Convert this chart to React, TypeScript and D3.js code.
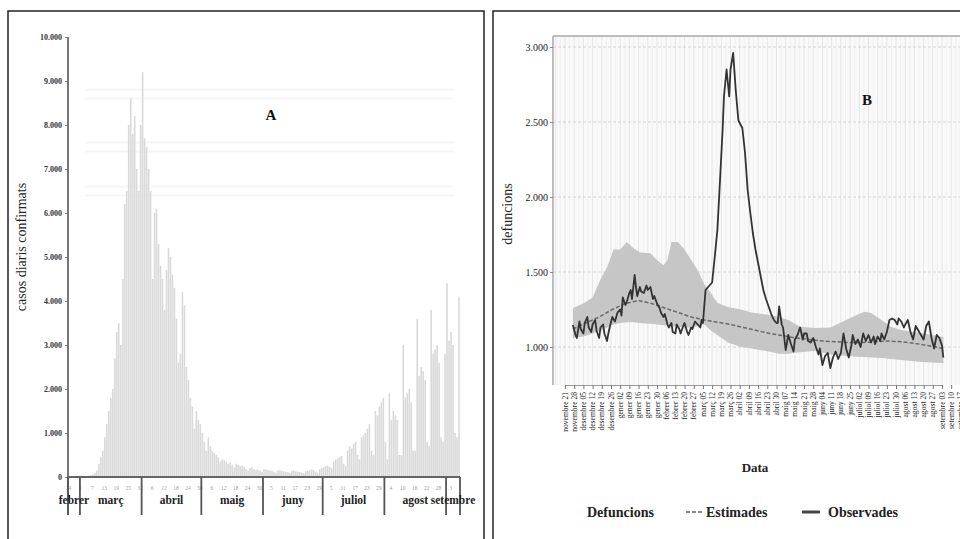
import React, { useRef, useEffect } from "react";
import * as d3 from "d3";

// ---- Panel A: daily confirmed cases (starting 24 Feb 2020) ----
const casesStart = "2020-02-24";
const casesEnd = "2020-09-08";
const casesFeb = [0, 0, 1, 2, 3, 5];
const casesMar = [6, 4, 10, 20, 30, 40, 60, 100, 150, 300, 450, 600, 900, 1200, 1500, 1800, 2000, 2700, 3300, 3500, 3000, 4500, 6200, 6500, 8000, 8600, 7800, 8200, 7000, 6500, 8000];
const casesApr = [9200, 7700, 7500, 7000, 6500, 4500, 6000, 6100, 5300, 4800, 4500, 3800, 4700, 5200, 5000, 4600, 4300, 3600, 2600, 2800, 4200, 3900, 2500, 2200, 1800, 1600, 1100, 1500, 1300, 1200];
const casesMay = [1000, 800, 600, 900, 700, 600, 550, 500, 450, 350, 400, 380, 350, 300, 330, 280, 220, 300, 280, 250, 260, 220, 180, 150, 200, 220, 180, 160, 170, 150, 120];
const casesJun = [180, 170, 160, 150, 140, 120, 100, 150, 160, 140, 130, 120, 110, 90, 140, 150, 130, 120, 110, 100, 90, 130, 140, 150, 170, 160, 120, 100, 180, 200];
const casesJul = [220, 250, 260, 230, 200, 350, 400, 420, 450, 480, 300, 250, 600, 700, 650, 750, 800, 500, 400, 900, 950, 1000, 1100, 1200, 600, 500, 1500, 1400, 1600, 1700, 1800];
const casesAug = [800, 400, 1900, 1300, 1500, 1400, 1300, 500, 500, 3000, 1800, 1900, 2000, 1700, 600, 600, 3600, 2300, 2500, 2400, 2200, 800, 700, 3800, 2800, 2900, 3000, 2600, 900, 800, 2800];
const casesSep = [4400, 3100, 3300, 3000, 1000, 900, 4100];
const casesTicks = [0, 1000, 2000, 3000, 4000, 5000, 6000, 7000, 8000, 9000, 10000];
const faintLines = [6400, 6600, 7400, 7600, 8600, 8800];
const catMonths = ["gener", "febrer", "març", "abril", "maig", "juny", "juliol", "agost", "setembre", "octubre", "novembre", "desembre"];

// ---- Panel B: deaths, observed vs estimated ----
const obsDates = [
  "2019-11-27", "2019-11-29", "2019-11-30", "2019-12-02", "2019-12-03", "2019-12-05", "2019-12-06", "2019-12-08", "2019-12-09", "2019-12-11",
  "2019-12-12", "2019-12-14", "2019-12-15", "2019-12-17", "2019-12-18", "2019-12-20", "2019-12-21", "2019-12-23", "2019-12-24", "2019-12-25",
  "2019-12-27", "2019-12-29", "2019-12-31", "2020-01-02", "2020-01-03", "2020-01-04", "2020-01-06", "2020-01-07", "2020-01-09", "2020-01-10",
  "2020-01-11", "2020-01-13", "2020-01-14", "2020-01-15", "2020-01-17", "2020-01-18", "2020-01-20", "2020-01-22", "2020-01-23", "2020-01-25",
  "2020-01-27", "2020-01-28", "2020-01-30", "2020-02-01", "2020-02-02", "2020-02-04", "2020-02-05", "2020-02-07", "2020-02-08", "2020-02-10",
  "2020-02-11", "2020-02-13", "2020-02-14", "2020-02-16", "2020-02-17", "2020-02-19", "2020-02-20", "2020-02-22", "2020-02-23", "2020-02-25",
  "2020-02-26", "2020-02-28", "2020-03-01", "2020-03-03", "2020-03-04", "2020-03-05", "2020-03-07", "2020-03-09", "2020-03-12", "2020-03-14",
  "2020-03-16", "2020-03-18", "2020-03-20", "2020-03-21", "2020-03-23", "2020-03-25", "2020-03-26", "2020-03-28", "2020-03-30", "2020-04-01",
  "2020-04-04", "2020-04-06", "2020-04-08", "2020-04-10", "2020-04-12", "2020-04-14", "2020-04-16", "2020-04-18", "2020-04-20", "2020-04-22",
  "2020-04-24", "2020-04-26", "2020-04-28", "2020-04-30", "2020-05-01", "2020-05-02", "2020-05-04", "2020-05-05", "2020-05-07", "2020-05-09",
  "2020-05-11", "2020-05-13", "2020-05-14", "2020-05-16", "2020-05-18", "2020-05-20", "2020-05-21", "2020-05-23", "2020-05-24", "2020-05-26",
  "2020-05-28", "2020-05-30", "2020-06-01", "2020-06-02", "2020-06-04", "2020-06-06", "2020-06-08", "2020-06-10", "2020-06-12", "2020-06-14",
  "2020-06-16", "2020-06-18", "2020-06-20", "2020-06-22", "2020-06-24", "2020-06-26", "2020-06-27", "2020-06-29", "2020-07-01", "2020-07-03",
  "2020-07-05", "2020-07-07", "2020-07-09", "2020-07-11", "2020-07-13", "2020-07-14", "2020-07-16", "2020-07-18", "2020-07-19", "2020-07-21",
  "2020-07-23", "2020-07-25", "2020-07-27", "2020-07-29", "2020-07-31", "2020-08-01", "2020-08-03", "2020-08-05", "2020-08-06", "2020-08-08",
  "2020-08-10", "2020-08-12", "2020-08-14", "2020-08-16", "2020-08-18", "2020-08-20", "2020-08-22", "2020-08-24", "2020-08-26", "2020-08-28",
  "2020-08-30", "2020-09-01", "2020-09-03", "2020-09-04",
];
const obsValues = [
  1147, 1080, 1060, 1170, 1120, 1090, 1160, 1200, 1130, 1100,
  1150, 1180, 1110, 1060, 1130, 1150, 1090, 1040, 1090, 1130,
  1200, 1170, 1230, 1250, 1210, 1330, 1280, 1300, 1360, 1380,
  1320, 1480, 1400, 1340, 1400, 1370, 1360, 1410, 1380, 1400,
  1320, 1340, 1290, 1260, 1230, 1200, 1220, 1150, 1130, 1160,
  1100, 1090, 1150, 1120, 1090, 1140, 1160, 1100, 1080, 1130,
  1120, 1170, 1150, 1130, 1180, 1160, 1380, 1400, 1430, 1600,
  1780, 2110, 2450, 2670, 2850, 2670, 2850, 2960, 2710, 2510,
  2460, 2300, 2050, 1900, 1760, 1650, 1560, 1470, 1380, 1320,
  1270, 1220, 1180, 1160, 1160, 1270, 1150, 1130, 980, 1080,
  1020, 970, 1050, 1080, 1130, 1050, 1090, 1090, 1040, 1030,
  1060, 1000, 950, 990, 880, 940, 960, 860, 930, 970,
  920, 960, 1090, 990, 930, 1010, 1080, 1020, 1050, 1000,
  1090, 1040, 1080, 1030, 1070, 1020, 1070, 1040, 1090, 1050,
  1100, 1180, 1190, 1180, 1150, 1190, 1170, 1130, 1150, 1180,
  1100, 1050, 1140, 1110, 1080, 1050, 1140, 1170, 1060, 990,
  1080, 1060, 1010, 930,
];
const estDates = ["2019-11-27", "2019-12-07", "2019-12-17", "2019-12-27", "2020-01-06", "2020-01-16", "2020-01-26", "2020-02-05", "2020-02-15", "2020-02-25", "2020-03-06", "2020-03-16", "2020-03-26", "2020-04-05", "2020-04-15", "2020-04-25", "2020-05-05", "2020-05-15", "2020-05-25", "2020-06-04", "2020-06-14", "2020-06-24", "2020-07-04", "2020-07-14", "2020-07-24", "2020-08-03", "2020-08-13", "2020-08-23", "2020-09-04"];
const estValues = [1120, 1160, 1200, 1250, 1290, 1310, 1290, 1260, 1230, 1200, 1180, 1165, 1150, 1130, 1110, 1090, 1075, 1060, 1050, 1040, 1035, 1030, 1030, 1035, 1040, 1035, 1025, 1010, 990];
const bandDates = ["2019-11-27", "2019-12-05", "2019-12-12", "2019-12-18", "2019-12-23", "2019-12-28", "2020-01-02", "2020-01-07", "2020-01-12", "2020-01-17", "2020-01-25", "2020-01-30", "2020-02-04", "2020-02-07", "2020-02-10", "2020-02-15", "2020-02-20", "2020-02-25", "2020-03-01", "2020-03-06", "2020-03-11", "2020-03-16", "2020-03-24", "2020-04-03", "2020-04-11", "2020-04-24", "2020-05-02", "2020-05-09", "2020-05-18", "2020-05-30", "2020-06-10", "2020-06-22", "2020-06-30", "2020-07-06", "2020-07-11", "2020-07-19", "2020-07-26", "2020-08-03", "2020-08-18", "2020-09-04"];
const bandUpper = [1260, 1290, 1330, 1450, 1530, 1650, 1650, 1700, 1660, 1630, 1625, 1580, 1545, 1580, 1700, 1700, 1650, 1580, 1513, 1420, 1360, 1295, 1267, 1250, 1230, 1215, 1200, 1180, 1135, 1127, 1130, 1180, 1213, 1235, 1227, 1180, 1135, 1113, 1093, 1067];
const bandLower = [1060, 1070, 1090, 1110, 1130, 1150, 1160, 1165, 1165, 1160, 1155, 1150, 1145, 1140, 1140, 1135, 1130, 1130, 1140, 1150, 1110, 1080, 1030, 1000, 990, 970, 955, 955, 965, 975, 950, 940, 935, 933, 930, 927, 920, 913, 900, 893];
const deathTicks = [1000, 1500, 2000, 2500, 3000];

const serif = "'Liberation Serif', 'DejaVu Serif', serif";

export default function App() {
  const ref = useRef<SVGSVGElement>(null);

  useEffect(() => {
    document.body.style.margin = "0";
    const svg = d3.select(ref.current);
    svg.selectAll("*").remove();
    const parse = d3.timeParse("%Y-%m-%d");
    const fmtNum = d3.formatLocale({ decimal: ",", thousands: ".", grouping: [3], currency: ["", "€"] }).format(",d");

    // outer frames
    svg.append("rect").attr("x", 8).attr("y", 11).attr("width", 476).attr("height", 540)
      .attr("fill", "none").attr("stroke", "#222").attr("stroke-width", 1.5);
    svg.append("rect").attr("x", 493).attr("y", 11).attr("width", 480).attr("height", 540)
      .attr("fill", "none").attr("stroke", "#222").attr("stroke-width", 1.5);

    // ================= A =================
    const aStart = parse(casesStart)!;
    const aEnd = parse(casesEnd)!;
    const cases = [...casesFeb, ...casesMar, ...casesApr, ...casesMay, ...casesJun, ...casesJul, ...casesAug, ...casesSep];
    const caseRows = cases.map((v, i) => ({ date: d3.timeDay.offset(aStart, i), v }));

    const xA = d3.scaleTime().domain([aStart, aEnd]).range([68, 460]);
    const yA = d3.scaleLinear().domain([0, 10000]).range([477, 37]);
    const gA = svg.append("g");

    gA.selectAll("line.faint").data(faintLines).join("line")
      .attr("x1", 85).attr("x2", 455).attr("y1", d => yA(d)).attr("y2", d => yA(d))
      .attr("stroke", "#f6f6f6").attr("stroke-width", 2);

    gA.selectAll("rect.bar").data(caseRows).join("rect")
      .attr("x", d => xA(d.date) + 0.2)
      .attr("width", 1.6)
      .attr("y", d => yA(d.v))
      .attr("height", d => yA(0) - yA(d.v))
      .attr("fill", "#d9d9d9");

    // y axis
    const yAxisA = gA.append("g").attr("transform", "translate(68,0)")
      .call(d3.axisLeft(yA).tickValues(casesTicks).tickFormat(d => fmtNum(+d)).tickSize(3).tickPadding(3));
    yAxisA.select(".domain").remove();
    yAxisA.selectAll("line").attr("stroke", "#888");
    yAxisA.selectAll("text").attr("font-family", serif).attr("font-size", 8).attr("font-weight", "bold").attr("fill", "#333");
    gA.append("line").attr("x1", 68).attr("x2", 68).attr("y1", 37).attr("y2", 515).attr("stroke", "#777").attr("stroke-width", 2);
    gA.append("line").attr("x1", 68).attr("x2", 460).attr("y1", 477).attr("y2", 477).attr("stroke", "#666").attr("stroke-width", 2);

    // tiny day numbers every 6 days
    const dayTicks = d3.timeDay.range(aStart, aEnd, 6);
    const xAxisA = gA.append("g").attr("transform", "translate(0,477)")
      .call(d3.axisBottom(xA).tickValues(dayTicks).tickFormat(d => d3.timeFormat("%-d")(d as Date)).tickSize(0).tickPadding(9));
    xAxisA.select(".domain").remove();
    xAxisA.selectAll("text").attr("font-family", serif).attr("font-size", 5.5).attr("fill", "#a0a0a0");

    // month separators and names
    const seps = [aStart, ...d3.timeMonth.range(d3.timeMonth.ceil(aStart), aEnd), aEnd];
    gA.selectAll("line.sep").data(seps).join("line")
      .attr("x1", d => xA(d)).attr("x2", d => xA(d)).attr("y1", 477).attr("y2", 515)
      .attr("stroke", "#555").attr("stroke-width", 1.8);
    const monthSpans = d3.timeMonth.range(d3.timeMonth.floor(aStart), aEnd).map(m => {
      const s = m < aStart ? aStart : m;
      const nx = d3.timeMonth.offset(m, 1);
      const e = nx > aEnd ? aEnd : nx;
      return { name: catMonths[m.getMonth()], mid: (xA(s) + xA(e)) / 2 };
    });
    gA.selectAll("text.month").data(monthSpans).join("text")
      .attr("x", d => d.mid).attr("y", 504).attr("text-anchor", "middle")
      .attr("font-family", serif).attr("font-size", 11.5).attr("font-weight", "bold").attr("fill", "#222")
      .text(d => d.name);

    gA.append("text").attr("transform", "translate(26,247) rotate(-90)").attr("text-anchor", "middle")
      .attr("font-family", serif).attr("font-size", 14).attr("fill", "#222").text("casos diaris confirmats");
    gA.append("text").attr("x", 271).attr("y", 120).attr("text-anchor", "middle")
      .attr("font-family", serif).attr("font-size", 15).attr("font-weight", "bold").attr("fill", "#111").text("A");

    // ================= B =================
    const xB = d3.scaleTime().domain([parse("2019-11-21")!, parse("2020-09-03")!]).range([565, 942]);
    const yB = d3.scaleLinear().domain([1000, 3000]).range([347, 47]);
    const gB = svg.append("g");
    const pL = 553, pT = 36, pB = 385, pR = 975;

    gB.append("rect").attr("x", pL).attr("y", pT).attr("width", pR - pL).attr("height", pB - pT).attr("fill", "#f9f9f9");

    const weekTicks = d3.timeThursday.range(parse("2019-11-14")!, parse("2020-09-25")!);
    gB.selectAll("line.minor").data(weekTicks).join("line")
      .attr("x1", d => (xB(d) + xB(d3.timeDay.offset(d, 7))) / 2).attr("x2", d => (xB(d) + xB(d3.timeDay.offset(d, 7))) / 2)
      .attr("y1", pT).attr("y2", pB).attr("stroke", "#f0f0f0").attr("stroke-width", 1);
    gB.selectAll("line.major").data(weekTicks).join("line")
      .attr("x1", d => xB(d)).attr("x2", d => xB(d)).attr("y1", pT).attr("y2", pB)
      .attr("stroke", "#e6e6e6").attr("stroke-width", 1);
    gB.selectAll("line.hgrid").data(deathTicks).join("line")
      .attr("x1", pL).attr("x2", pR).attr("y1", d => yB(d)).attr("y2", d => yB(d))
      .attr("stroke", "#d4d4d4").attr("stroke-width", 1).attr("stroke-dasharray", "3,2");

    const band = bandDates.map((d, i) => ({ date: parse(d)!, lo: bandLower[i], hi: bandUpper[i] }));
    gB.append("path").datum(band)
      .attr("d", d3.area<any>().x(d => xB(d.date)).y0(d => yB(d.lo)).y1(d => yB(d.hi)))
      .attr("fill", "#c6c6c6");

    const est = estDates.map((d, i) => ({ date: parse(d)!, v: estValues[i] }));
    gB.append("path").datum(est)
      .attr("d", d3.line<any>().x(d => xB(d.date)).y(d => yB(d.v)))
      .attr("fill", "none").attr("stroke", "#6a6a6a").attr("stroke-width", 1.5).attr("stroke-dasharray", "4,2");

    const obs = obsDates.map((d, i) => ({ date: parse(d)!, v: obsValues[i] }));
    gB.append("path").datum(obs)
      .attr("d", d3.line<any>().x(d => xB(d.date)).y(d => yB(d.v)))
      .attr("fill", "none").attr("stroke", "#333").attr("stroke-width", 1.8).attr("stroke-linejoin", "round");

    // panel border
    gB.append("line").attr("x1", pL).attr("x2", pR).attr("y1", pT).attr("y2", pT).attr("stroke", "#bdbdbd").attr("stroke-width", 2);
    gB.append("line").attr("x1", pL).attr("x2", pL).attr("y1", pT).attr("y2", pB).attr("stroke", "#bdbdbd").attr("stroke-width", 2);

    // y axis
    const yAxisB = gB.append("g").attr("transform", `translate(${pL},0)`)
      .call(d3.axisLeft(yB).tickValues(deathTicks).tickFormat(d => fmtNum(+d)).tickSize(3).tickPadding(2));
    yAxisB.select(".domain").remove();
    yAxisB.selectAll("line").attr("stroke", "#888");
    yAxisB.selectAll("text").attr("font-family", serif).attr("font-size", 10).attr("fill", "#222");

    // x axis
    const labelTicks = d3.timeThursday.range(parse("2019-11-21")!, parse("2020-09-18")!);
    const xAxisB = gB.append("g").attr("transform", `translate(0,${pB})`)
      .call(d3.axisBottom(xB).tickValues(labelTicks).tickSize(4).tickFormat(() => ""));
    xAxisB.select(".domain").attr("stroke", "#999");
    xAxisB.selectAll("line").attr("stroke", "#777");
    gB.selectAll("text.xl").data(labelTicks).join("text")
      .attr("transform", d => `translate(${xB(d) + 2.6},392) rotate(-90)`)
      .attr("text-anchor", "end")
      .attr("font-family", serif).attr("font-size", 7.6).attr("fill", "#222")
      .text(d => `${catMonths[d.getMonth()]} ${d3.timeFormat("%d")(d)}`);

    gB.append("text").attr("x", 755).attr("y", 472).attr("text-anchor", "middle")
      .attr("font-family", serif).attr("font-size", 13).attr("font-weight", "bold").attr("fill", "#222").text("Data");
    gB.append("text").attr("transform", "translate(512,214) rotate(-90)").attr("text-anchor", "middle")
      .attr("font-family", serif).attr("font-size", 14).attr("fill", "#222").text("defuncions");
    gB.append("text").attr("x", 867).attr("y", 105).attr("text-anchor", "middle")
      .attr("font-family", serif).attr("font-size", 15).attr("font-weight", "bold").attr("fill", "#111").text("B");

    // legend
    const lg = gB.append("g").attr("font-family", serif).attr("font-size", 14).attr("font-weight", "bold").attr("fill", "#222");
    lg.append("text").attr("x", 587).attr("y", 517).text("Defuncions");
    lg.append("line").attr("x1", 686).attr("x2", 703).attr("y1", 512).attr("y2", 512)
      .attr("stroke", "#888").attr("stroke-width", 2).attr("stroke-dasharray", "4,2");
    lg.append("text").attr("x", 706).attr("y", 517).text("Estimades");
    lg.append("line").attr("x1", 802).attr("x2", 820).attr("y1", 512).attr("y2", 512)
      .attr("stroke", "#444").attr("stroke-width", 3);
    lg.append("text").attr("x", 828).attr("y", 517).text("Observades");
  }, []);

  return <svg ref={ref} width={960} height={539} style={{ display: "block" }} />;
}
